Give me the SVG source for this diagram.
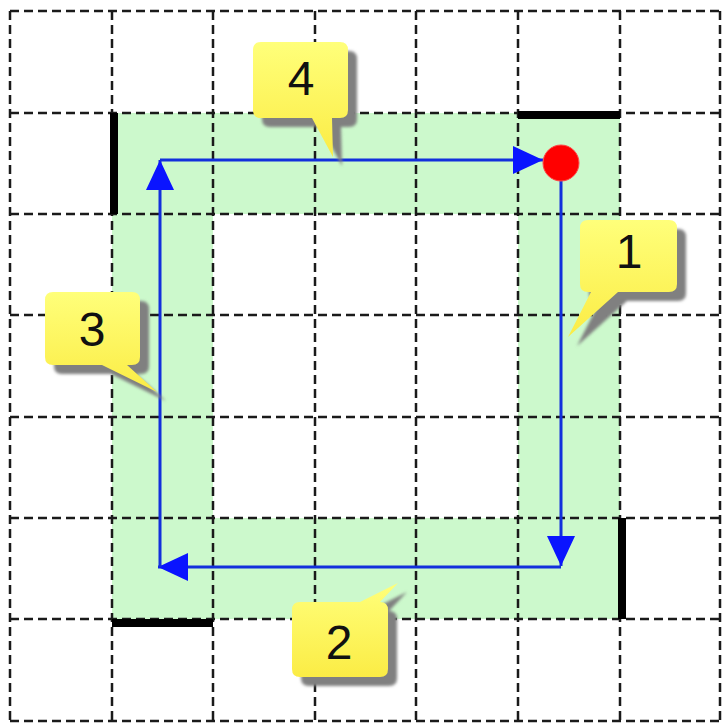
<svg xmlns="http://www.w3.org/2000/svg" width="722" height="725" viewBox="0 0 722 725">
  <style>
    .grid { stroke: #1a1a1a; stroke-width: 2.5; stroke-dasharray: 9 5; fill: none; }
    .wall { fill: #000000; }
    .path { stroke: #1230dc; stroke-width: 3; fill: none; }
    .bubble { fill: url(#yellow); }
    .shadow { fill: #808080; filter: url(#blur); }
    .label { font-family: "Liberation Sans", Arial, sans-serif; font-size: 48px; fill: #111111; text-anchor: middle; }
  </style>
  <defs>
    <linearGradient id="yellow" x1="0" y1="0" x2="0" y2="1">
      <stop offset="0" stop-color="#ffff7a"/>
      <stop offset="1" stop-color="#fbec45"/>
    </linearGradient>
    <filter id="blur" x="-20%" y="-20%" width="140%" height="140%">
      <feGaussianBlur stdDeviation="1.5"/>
    </filter>
    <marker id="arrow" markerUnits="userSpaceOnUse" markerWidth="30" markerHeight="28" refX="30" refY="14" orient="auto">
      <path d="M0,0 L30,14 L0,28 Z" fill="#0a14ff"/>
    </marker>
    <path id="b4" d="M261,42 H340 Q348,42 348,50 V110 Q348,118 340,118 H332 L333,157 L312,118 H261 Q253,118 253,110 V50 Q253,42 261,42 Z"/>
    <path id="b1" d="M588,220 H669 Q677,220 677,228 V284 Q677,292 669,292 H618 L568,337 L591,292 H588 Q580,292 580,284 V228 Q580,220 588,220 Z"/>
    <path id="b3" d="M53,292 H132 Q140,292 140,300 V357 Q140,365 132,365 H127 L157,392 L102,365 H53 Q45,365 45,357 V300 Q45,292 53,292 Z"/>
    <path id="b2" d="M300,602 H360 L398,583 L380,602 Q388,602 388,610 V669 Q388,677 380,677 H300 Q292,677 292,669 V610 Q292,602 300,602 Z"/>
  </defs>

  <rect x="0" y="0" width="722" height="725" fill="#ffffff"/>

  <g id="region">
    <path d="M112,113 H620 V619 H112 Z M213,214 V518 H518 V214 Z" fill="#ccf9cc" fill-rule="evenodd"/>
  </g>

  <g id="grid">
    <path class="grid" d="M10,11 V721 M112,11 V721 M213,11 V721 M315,11 V721 M416,11 V721 M518,11 V721 M620,11 V721 M720,11 V721"/>
    <path class="grid" d="M10,11 H721 M10,113 H721 M10,214 H721 M10,315 H721 M10,417 H721 M10,518 H721 M10,619 H721 M10,721 H721"/>
  </g>

  <g id="walls">
    <rect class="wall" x="110" y="113" width="8" height="101"/>
    <rect class="wall" x="518" y="111" width="102" height="8"/>
    <rect class="wall" x="618" y="518" width="8" height="101"/>
    <rect class="wall" x="112" y="619" width="101" height="8"/>
  </g>

  <g id="connectors">
    <path class="path" d="M561,163 V566" marker-end="url(#arrow)"/>
    <path class="path" d="M561,567 H158" marker-end="url(#arrow)"/>
    <path class="path" d="M160,567 V160" marker-end="url(#arrow)"/>
    <path class="path" d="M160,160 H543" marker-end="url(#arrow)"/>
  </g>

  <g id="start">
    <circle cx="561" cy="163" r="18" fill="#ff0000" stroke="#ff4a4a" stroke-width="1"/>
  </g>

  <g id="callout-4">
    <use href="#b4" class="shadow" transform="translate(9,9)"/>
    <use href="#b4" class="bubble"/>
    <text class="label" x="301" y="95">4</text>
  </g>
  <g id="callout-1">
    <use href="#b1" class="shadow" transform="translate(9,9)"/>
    <use href="#b1" class="bubble"/>
    <text class="label" x="629" y="268">1</text>
  </g>
  <g id="callout-3">
    <use href="#b3" class="shadow" transform="translate(9,9)"/>
    <use href="#b3" class="bubble"/>
    <text class="label" x="92" y="346">3</text>
  </g>
  <g id="callout-2">
    <use href="#b2" class="shadow" transform="translate(9,9)"/>
    <use href="#b2" class="bubble"/>
    <text class="label" x="339" y="659">2</text>
  </g>
</svg>
